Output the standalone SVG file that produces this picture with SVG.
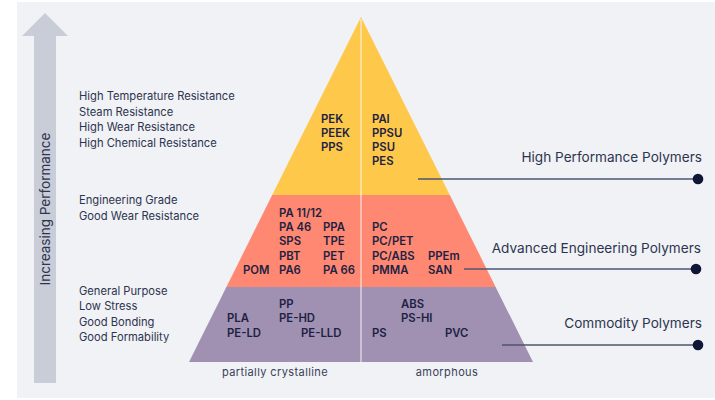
<svg xmlns="http://www.w3.org/2000/svg" width="715" height="400" viewBox="0 0 715 400">
  <style>
    .prop { font-family: Inter, "Liberation Sans", sans-serif; font-size: 11.2px; fill: #2e3450; }
    .poly { font-family: Inter, "Liberation Sans", sans-serif; font-size: 11.3px; font-weight: 600; fill: #1c2242; }
    .tier { font-family: Inter, "Liberation Sans", sans-serif; font-size: 13.6px; fill: #2e3450; text-anchor: end; }
    .axis { font-family: Inter, "Liberation Sans", sans-serif; font-size: 11px; letter-spacing: 0.4px; fill: #3a405a; text-anchor: middle; }
    .lead { stroke: #4e556f; stroke-width: 1.6; fill: none; }
    .dot { fill: #0f1636; }
  </style>

  <!-- background panel -->
  <rect x="0" y="0" width="715" height="400" fill="#ffffff"/>
  <rect x="17" y="2" width="698" height="396" fill="#f0f2f5"/>

  <!-- performance arrow -->
  <g id="performance-arrow">
    <polygon points="45,13 68,36 56,36 56,383 34,383 34,36 22,36" fill="#c9cdd8"/>
    <text transform="translate(50,209) rotate(-90)" font-family="Inter, 'Liberation Sans', sans-serif" font-size="13.5" fill="#2e3450" text-anchor="middle">Increasing Performance</text>
  </g>

  <!-- pyramid tiers -->
  <g id="tier-high-performance">
    <polygon points="361,17 449.8,195 272.2,195" fill="#fec84b"/>
  </g>
  <g id="tier-advanced-engineering">
    <polygon points="272.2,195 449.8,195 495.6,287 226.4,287" fill="#ff8872"/>
  </g>
  <g id="tier-commodity">
    <polygon points="226.4,287 495.6,287 533,362 189,362" fill="#a091b3"/>
  </g>
  <line x1="361" y1="19" x2="361" y2="362" stroke="#ffffff" stroke-opacity="0.6" stroke-width="1.5"/>

  <!-- property descriptions -->
  <g id="props-high">
    <text class="prop" x="79" y="100">High Temperature Resistance</text>
    <text class="prop" x="79" y="115.5">Steam Resistance</text>
    <text class="prop" x="79" y="131">High Wear Resistance</text>
    <text class="prop" x="79" y="146.5">High Chemical Resistance</text>
  </g>
  <g id="props-engineering">
    <text class="prop" x="79" y="204">Engineering Grade</text>
    <text class="prop" x="79" y="219.5">Good Wear Resistance</text>
  </g>
  <g id="props-commodity">
    <text class="prop" x="79" y="294.5">General Purpose</text>
    <text class="prop" x="79" y="310">Low Stress</text>
    <text class="prop" x="79" y="325.5">Good Bonding</text>
    <text class="prop" x="79" y="341">Good Formability</text>
  </g>

  <!-- polymers: high performance -->
  <g id="polymers-high">
    <text class="poly" x="321" y="123">PEK</text>
    <text class="poly" x="321" y="137">PEEK</text>
    <text class="poly" x="321" y="151">PPS</text>
    <text class="poly" x="372" y="123">PAI</text>
    <text class="poly" x="372" y="137">PPSU</text>
    <text class="poly" x="372" y="151">PSU</text>
    <text class="poly" x="372" y="165">PES</text>
  </g>

  <!-- polymers: advanced engineering -->
  <g id="polymers-engineering">
    <text class="poly" x="279" y="217">PA 11/12</text>
    <text class="poly" x="279" y="231">PA 46</text>
    <text class="poly" x="279" y="245">SPS</text>
    <text class="poly" x="279" y="259.5">PBT</text>
    <text class="poly" x="279" y="274">PA6</text>
    <text class="poly" x="243" y="274">POM</text>
    <text class="poly" x="323" y="231">PPA</text>
    <text class="poly" x="323" y="245">TPE</text>
    <text class="poly" x="323" y="259.5">PET</text>
    <text class="poly" x="323" y="274">PA 66</text>
    <text class="poly" x="372" y="231">PC</text>
    <text class="poly" x="372" y="245">PC/PET</text>
    <text class="poly" x="372" y="259.5">PC/ABS</text>
    <text class="poly" x="372" y="274">PMMA</text>
    <text class="poly" x="428" y="259.5">PPEm</text>
    <text class="poly" x="428" y="274">SAN</text>
  </g>

  <!-- polymers: commodity -->
  <g id="polymers-commodity">
    <text class="poly" x="279" y="307.5">PP</text>
    <text class="poly" x="227" y="322">PLA</text>
    <text class="poly" x="279" y="322">PE-HD</text>
    <text class="poly" x="227" y="337">PE-LD</text>
    <text class="poly" x="301" y="337">PE-LLD</text>
    <text class="poly" x="401" y="307.5">ABS</text>
    <text class="poly" x="401" y="322">PS-HI</text>
    <text class="poly" x="372" y="337">PS</text>
    <text class="poly" x="445" y="337">PVC</text>
  </g>

  <!-- structure labels under the base -->
  <g id="axis-labels">
    <text class="axis" x="275" y="376">partially crystalline</text>
    <text class="axis" x="447" y="376">amorphous</text>
  </g>

  <!-- tier names -->
  <g id="tier-labels">
    <text class="tier" x="702" y="162">High Performance Polymers</text>
    <text class="tier" x="701" y="253">Advanced Engineering Polymers</text>
    <text class="tier" x="702" y="328">Commodity Polymers</text>
  </g>

  <!-- leader lines -->
  <g id="connectors">
    <line class="lead" x1="418" y1="179" x2="697" y2="179"/>
    <circle class="dot" cx="698" cy="179" r="5.3"/>
    <line class="lead" x1="464" y1="269" x2="695" y2="269"/>
    <circle class="dot" cx="696" cy="269" r="5.3"/>
    <line class="lead" x1="502" y1="345" x2="697" y2="345"/>
    <circle class="dot" cx="698" cy="345" r="5.3"/>
  </g>
</svg>
